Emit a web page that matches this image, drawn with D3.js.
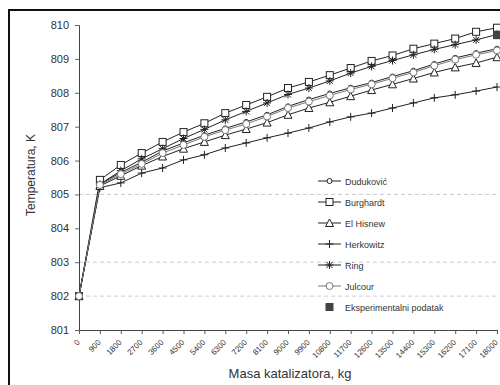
<!DOCTYPE html>
<html>
<head>
<meta charset="utf-8">
<script src="https://cdn.jsdelivr.net/npm/d3@7"></script>
<style>
  body { margin: 0; background: #fff; }
  text { font-family: "Liberation Sans", Arial, sans-serif; fill: #333; }
</style>
</head>
<body>
<div id="chart"></div>
<script>
// Data
const masa = ["0", "900", "1800", "2700", "3600", "4500", "5400", "6300", "7200", "8100", "9000",
  "9900", "10800", "11700", "12600", "13500", "14400", "15300", "16200", "17100", "18000"];
const yTicks = [801, 802, 803, 804, 805, 806, 807, 808, 809, 810];
const gridValues = [802, 803, 805];

const dudukovic = [802, 805.3, 805.65, 805.95, 806.28, 806.52, 806.75, 806.95, 807.14, 807.35, 807.6,
  807.8, 807.98, 808.15, 808.3, 808.48, 808.65, 808.85, 809.03, 809.17, 809.3];
const burghardt = [802, 805.43, 805.87, 806.22, 806.55, 806.84, 807.1, 807.4, 807.64, 807.88, 808.14,
  808.32, 808.52, 808.73, 808.94, 809.1, 809.3, 809.45, 809.6, 809.8, 809.92];
const elHisnew = [802, 805.25, 805.55, 805.85, 806.12, 806.35, 806.55, 806.75, 806.93, 807.12, 807.35,
  807.55, 807.72, 807.9, 808.08, 808.25, 808.42, 808.6, 808.75, 808.88, 809.05];
const herkowitz = [802, 805.2, 805.34, 805.63, 805.78, 806.02, 806.17, 806.37, 806.52, 806.67, 806.81,
  806.96, 807.14, 807.29, 807.4, 807.55, 807.7, 807.85, 807.94, 808.05, 808.17];
const ring = [802, 805.3, 805.7, 806.05, 806.35, 806.65, 806.92, 807.2, 807.45, 807.7, 807.95,
  808.14, 808.35, 808.58, 808.78, 808.95, 809.12, 809.28, 809.42, 809.56, 809.72];
const julcour = [802, 805.28, 805.6, 805.9, 806.22, 806.46, 806.7, 806.9, 807.08, 807.3, 807.55,
  807.74, 807.92, 808.1, 808.25, 808.43, 808.6, 808.8, 808.98, 809.12, 809.25];
const eksperiment = [{ x: "18000", y: 809.7 }];

const series = [
  { name: "Duduković", values: dudukovic, marker: "dot", color: "#222" },
  { name: "Burghardt", values: burghardt, marker: "square", color: "#222" },
  { name: "El Hisnew", values: elHisnew, marker: "triangle", color: "#222" },
  { name: "Herkowitz", values: herkowitz, marker: "plus", color: "#222" },
  { name: "Ring", values: ring, marker: "star", color: "#222" },
  { name: "Julcour", values: julcour, marker: "circle", color: "#777" }
];

const width = 500, height = 385;
const margin = { top: 25, right: 3, bottom: 55, left: 79 };

const svg = d3.select("#chart").append("svg")
  .attr("width", width)
  .attr("height", height);

svg.append("rect").attr("width", width).attr("height", height).attr("fill", "#fff");

// outer frame from the scanned page
svg.append("path")
  .attr("d", "M9,385 V10 H500")
  .attr("fill", "none")
  .attr("stroke", "#111")
  .attr("stroke-width", 2);

const xScale = d3.scalePoint()
  .domain(masa)
  .range([margin.left, width - margin.right]);

const yScale = d3.scaleLinear()
  .domain([801, 810])
  .range([height - margin.bottom, margin.top]);

// faint grid
svg.append("g").selectAll("line")
  .data(gridValues)
  .enter().append("line")
  .attr("x1", margin.left).attr("x2", width - margin.right)
  .attr("y1", d => yScale(d)).attr("y2", d => yScale(d))
  .attr("stroke", "#ccc")
  .attr("stroke-dasharray", "4,3");

// axes
const yAxis = svg.append("g")
  .attr("transform", "translate(" + margin.left + ",0)")
  .call(d3.axisLeft(yScale).tickValues(yTicks).tickSize(4).tickPadding(6));
yAxis.select(".domain").attr("stroke", "#444");
yAxis.selectAll(".tick line").attr("stroke", "#666");
yAxis.selectAll("text").style("font-size", "11px").attr("fill", "#333");

const xAxis = svg.append("g")
  .attr("transform", "translate(0," + (height - margin.bottom) + ")")
  .call(d3.axisBottom(xScale).tickSize(4).tickSizeOuter(0));
xAxis.select(".domain").attr("stroke", "#444");
xAxis.selectAll(".tick line").attr("stroke", "#555");
xAxis.selectAll("text")
  .style("font-size", "8px")
  .attr("fill", "#444")
  .attr("text-anchor", "end")
  .attr("dy", "0")
  .attr("transform", "translate(-4,8) rotate(-45)");

// axis titles
svg.append("text")
  .attr("x", 290).attr("y", 378)
  .attr("text-anchor", "middle")
  .style("font-size", "13px")
  .attr("fill", "#222")
  .text("Masa katalizatora, kg");

svg.append("text")
  .attr("transform", "translate(35," + 175 + ") rotate(-90)")
  .attr("text-anchor", "middle")
  .style("font-size", "12px")
  .attr("fill", "#333")
  .text("Temperatura, K");

// marker drawing
function drawMarker(g, type, color) {
  if (type === "dot") {
    g.append("circle").attr("r", 2.5).attr("fill", "#fff").attr("stroke", color).attr("stroke-width", 1);
  } else if (type === "circle") {
    g.append("circle").attr("r", 3.5).attr("fill", "#fff").attr("stroke", color).attr("stroke-width", 1);
  } else if (type === "square") {
    g.append("rect").attr("x", -3.5).attr("y", -3.5).attr("width", 7).attr("height", 7)
      .attr("fill", "#fff").attr("stroke", color).attr("stroke-width", 1);
  } else if (type === "triangle") {
    g.append("path").attr("d", "M0,-4 L4,3.5 L-4,3.5 Z")
      .attr("fill", "#fff").attr("stroke", color).attr("stroke-width", 1);
  } else if (type === "plus") {
    g.append("path").attr("d", "M-4,0 H4 M0,-4 V4")
      .attr("stroke", color).attr("stroke-width", 1);
  } else if (type === "star") {
    g.append("path").attr("d", "M-4,0 H4 M-3,-3 L3,3 M-3,3 L3,-3 M0,-4 V4")
      .attr("stroke", color).attr("stroke-width", 1);
  } else if (type === "filled") {
    g.append("rect").attr("x", -4).attr("y", -4).attr("width", 8).attr("height", 8)
      .attr("fill", "#444");
  }
}

const line = d3.line()
  .x((d, i) => xScale(masa[i]))
  .y(d => yScale(d));

series.forEach(s => {
  svg.append("path")
    .datum(s.values)
    .attr("fill", "none")
    .attr("stroke", s.color)
    .attr("stroke-width", 1)
    .attr("d", line);
});

series.forEach(s => {
  svg.append("g").selectAll("g")
    .data(s.values)
    .enter().append("g")
    .attr("transform", (d, i) => "translate(" + xScale(masa[i]) + "," + yScale(d) + ")")
    .each(function() { drawMarker(d3.select(this), s.marker, s.color); });
});

svg.append("g").selectAll("g")
  .data(eksperiment)
  .enter().append("g")
  .attr("transform", d => "translate(" + xScale(d.x) + "," + yScale(d.y) + ")")
  .each(function() { drawMarker(d3.select(this), "filled"); });

// legend
const legendItems = series.map(s => ({ name: s.name, marker: s.marker, color: s.color, line: true }))
  .concat([{ name: "Eksperimentalni podatak", marker: "filled", color: "#444", line: false }]);

const legend = svg.append("g").attr("transform", "translate(318,181)");
legendItems.forEach((item, i) => {
  const row = legend.append("g").attr("transform", "translate(0," + (i * 21) + ")");
  if (item.line) {
    row.append("line").attr("x1", 0).attr("x2", 23).attr("y1", 0).attr("y2", 0)
      .attr("stroke", item.color).attr("stroke-width", 1);
  }
  const m = row.append("g").attr("transform", "translate(11.5,0)");
  drawMarker(m, item.marker, item.color);
  row.append("text")
    .attr("x", 27).attr("y", 3.5)
    .style("font-size", "9px")
    .attr("fill", "#333")
    .text(item.name);
});
</script>
</body>
</html>
